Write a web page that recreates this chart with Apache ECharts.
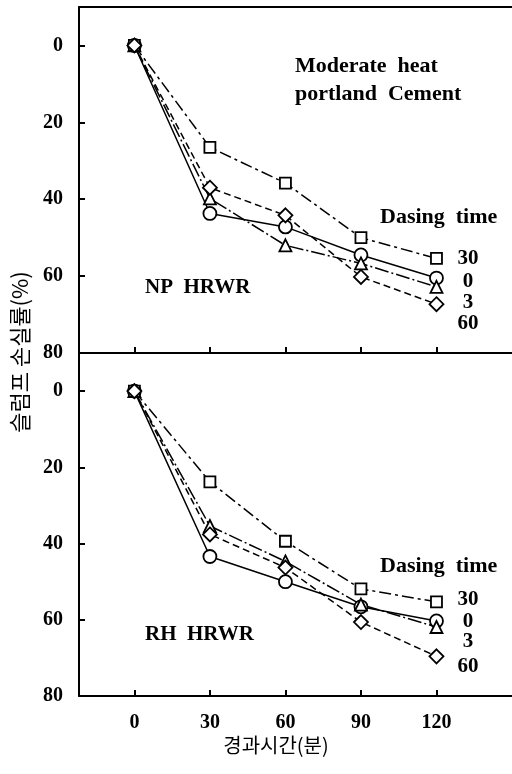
<!DOCTYPE html>
<html><head><meta charset="utf-8">
<script src="https://cdn.jsdelivr.net/npm/echarts@6/dist/echarts.min.js"></script>
<style>html,body{margin:0;padding:0;background:#fff}#c{width:512px;height:774px}</style>
</head><body><div id="c"></div>
<script>
// ---- data ----
const times = [0, 30, 60, 90, 120];
const xTicks = [0, 30, 60, 90, 120];
const yTicks = [0, 20, 40, 60, 80];
// NP HRWR panel (slump loss %), by dosing time
const npDose0  = [0, 43.7, 47.2, 54.5, 60.5];
const npDose3  = [0, 39.8, 52.0, 56.7, 62.8];
const npDose30 = [0, 26.5, 35.8, 50.0, 55.4];
const npDose60 = [0, 37.0, 44.2, 60.2, 67.3];
// RH HRWR panel
const rhDose0  = [0, 43.4, 50.0, 56.6, 60.3];
const rhDose3  = [0, 35.4, 44.7, 56.0, 61.9];
const rhDose30 = [0, 23.8, 39.4, 51.9, 55.3];
const rhDose60 = [0, 37.6, 46.3, 60.6, 69.6];

const SERIF = "'Liberation Serif','DejaVu Serif',serif";

const chart = echarts.init(document.getElementById('c'), null, {renderer: 'canvas'});

function pts(v) { return times.map((t, i) => [t, v[i]]); }

const styles = {
  d0:  {symbol: 'circle',   size: 13, dash: 'solid'},
  d3:  {symbol: 'triangle', size: 12, dash: [14, 3, 2, 3]},
  d30: {symbol: 'rect',     size: 11, dash: [12, 4, 3, 4]},
  d60: {symbol: 'diamond',  size: 14, dash: [7, 4]}
};

function ser(name, v, st, gi) {
  return {
    name: name, type: 'line', xAxisIndex: gi === 0 ? 0 : 2, yAxisIndex: gi,
    data: pts(v), symbol: st.symbol, symbolSize: st.size, showSymbol: true,
    lineStyle: {color: '#000', width: 1.5, type: st.dash},
    itemStyle: {color: '#fff', borderColor: '#000', borderWidth: 1.8},
    animation: false, z: 3
  };
}

function yAx(gi) {
  return {
    type: 'value', gridIndex: gi, inverse: true, min: -10, max: 80,
    splitLine: {show: false},
    axisLine: {show: true, onZero: false, lineStyle: {color: '#000', width: 2}},
    axisTick: {show: true, inside: true, length: 6, customValues: yTicks, lineStyle: {color: '#000', width: 2}},
    axisLabel: {show: true, customValues: yTicks, margin: 16, color: '#000', fontSize: 20, fontWeight: 'bold', fontFamily: SERIF}
  };
}

const option = {
  backgroundColor: '#fff',
  animation: false,
  grid: [
    {left: 79, top: 7, right: 0, height: 346},
    {left: 79, top: 353, right: 0, height: 343}
  ],
  xAxis: [
    {type: 'value', gridIndex: 0, min: -22, max: 150, position: 'bottom',
     splitLine: {show: false},
     axisLine: {show: true, onZero: false, lineStyle: {color: '#000', width: 2}},
     axisTick: {show: true, inside: true, length: 6, customValues: xTicks, lineStyle: {color: '#000', width: 2}},
     axisLabel: {show: false}},
    {type: 'value', gridIndex: 0, min: -22, max: 150, position: 'top',
     splitLine: {show: false},
     axisLine: {show: true, onZero: false, lineStyle: {color: '#000', width: 2}},
     axisTick: {show: false}, axisLabel: {show: false}},
    {type: 'value', gridIndex: 1, min: -22, max: 150, position: 'bottom',
     splitLine: {show: false},
     axisLine: {show: true, onZero: false, lineStyle: {color: '#000', width: 2}},
     axisTick: {show: true, inside: true, length: 6, customValues: xTicks, lineStyle: {color: '#000', width: 2}},
     axisLabel: {show: true, customValues: xTicks, margin: 17, color: '#000', fontSize: 20, fontWeight: 'bold', fontFamily: SERIF}}
  ],
  yAxis: [yAx(0), yAx(1)],
  series: [
    ser('NP 0', npDose0, styles.d0, 0),
    ser('NP 3', npDose3, styles.d3, 0),
    ser('NP 30', npDose30, styles.d30, 0),
    ser('NP 60', npDose60, styles.d60, 0),
    ser('RH 0', rhDose0, styles.d0, 1),
    ser('RH 3', rhDose3, styles.d3, 1),
    ser('RH 30', rhDose30, styles.d30, 1),
    ser('RH 60', rhDose60, styles.d60, 1)
  ],
  graphic: [
    {type: 'text', left: 295, top: 55, style: {text: 'Moderate  heat', font: "bold 22px 'Liberation Serif',serif", fill: '#000'}},
    {type: 'text', left: 295, top: 83, style: {text: 'portland  Cement', font: "bold 22px 'Liberation Serif',serif", fill: '#000'}},
    {type: 'text', left: 380, top: 206, style: {text: 'Dasing  time', font: "bold 22px 'Liberation Serif',serif", fill: '#000'}},
    {type: 'text', x: 468, y: 259, style: {text: '30', textAlign: 'center', textVerticalAlign: 'middle', font: "bold 21px 'Liberation Serif',serif", fill: '#000'}},
    {type: 'text', x: 468, y: 282, style: {text: '0', textAlign: 'center', textVerticalAlign: 'middle', font: "bold 21px 'Liberation Serif',serif", fill: '#000'}},
    {type: 'text', x: 468, y: 303, style: {text: '3', textAlign: 'center', textVerticalAlign: 'middle', font: "bold 21px 'Liberation Serif',serif", fill: '#000'}},
    {type: 'text', x: 468, y: 324, style: {text: '60', textAlign: 'center', textVerticalAlign: 'middle', font: "bold 21px 'Liberation Serif',serif", fill: '#000'}},
    {type: 'text', left: 145, top: 277, style: {text: 'NP  HRWR', font: "bold 21px 'Liberation Serif',serif", fill: '#000'}},
    {type: 'text', left: 380, top: 555, style: {text: 'Dasing  time', font: "bold 22px 'Liberation Serif',serif", fill: '#000'}},
    {type: 'text', x: 468, y: 600, style: {text: '30', textAlign: 'center', textVerticalAlign: 'middle', font: "bold 21px 'Liberation Serif',serif", fill: '#000'}},
    {type: 'text', x: 468, y: 622, style: {text: '0', textAlign: 'center', textVerticalAlign: 'middle', font: "bold 21px 'Liberation Serif',serif", fill: '#000'}},
    {type: 'text', x: 468, y: 642, style: {text: '3', textAlign: 'center', textVerticalAlign: 'middle', font: "bold 21px 'Liberation Serif',serif", fill: '#000'}},
    {type: 'text', x: 468, y: 667, style: {text: '60', textAlign: 'center', textVerticalAlign: 'middle', font: "bold 21px 'Liberation Serif',serif", fill: '#000'}},
    {type: 'text', left: 145, top: 624, style: {text: 'RH  HRWR', font: "bold 21px 'Liberation Serif',serif", fill: '#000'}},
    {type: 'text', x: 20, y: 352, rotation: Math.PI / 2, style: {text: '슬럼프 손실률(%)', textAlign: 'center', textVerticalAlign: 'middle', font: "22px 'Noto Sans CJK KR',sans-serif", fill: '#000'}},
    {type: 'text', x: 276, y: 745, style: {text: '경과시간(분)', textAlign: 'center', textVerticalAlign: 'middle', font: "20px 'Noto Sans CJK KR',sans-serif", fill: '#000'}}
  ]
};
chart.setOption(option);
</script></body></html>
